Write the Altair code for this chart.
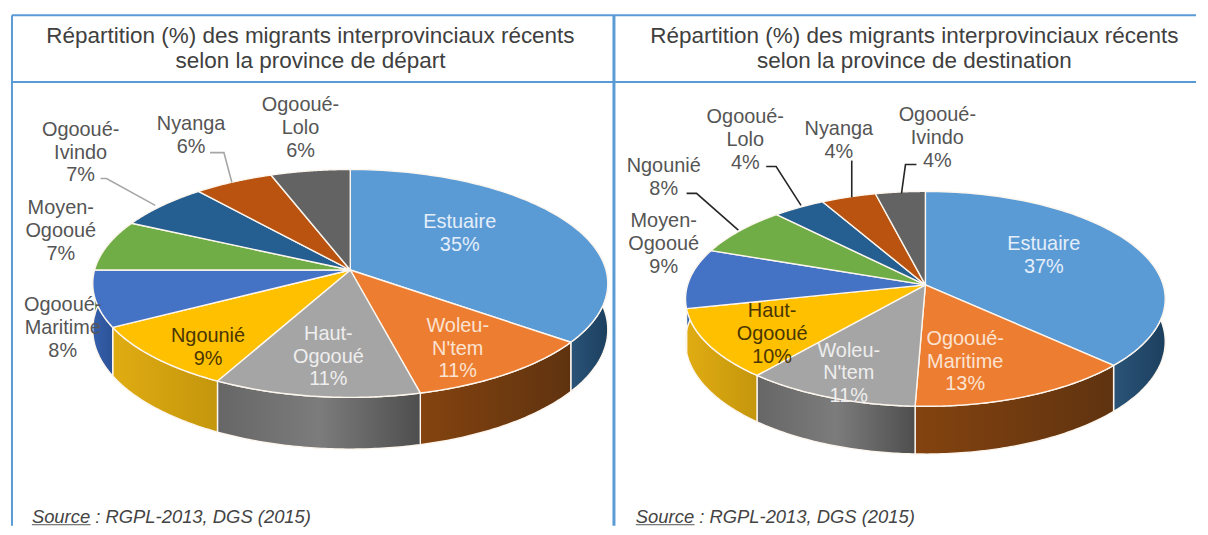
import numpy as np
import pandas as pd
import altair as alt

TOP_COLORS = ["#5b9bd5", "#ed7d31", "#a5a5a5", "#ffc000", "#4472c4", "#70ad47", "#255e91", "#b9530f", "#636363"]
RIM_STOPS = [
    ["#2a5478", "#1c3f5e"],
    ["#84430f", "#5f3310"],
    ["#666666", "#7c7c7c", "#4e4e4e"],
    ["#e0ac12", "#c4960c"],
    ["#3560ad", "#2c5296"],
    ["#5b8c3a", "#4f7a32"],
    ["#1e4c75", "#1e4c75"],
    ["#8a3f0c", "#8a3f0c"],
    ["#4c4c4c", "#4c4c4c"],
]

# panel 1
dep_names = ["Estuaire", "Woleu-N'tem", "Haut-Ogooué", "Ngounié", "Ogooué-Maritime", "Moyen-Ogooué", "Ogooué-Ivindo", "Nyanga", "Ogooué-Lolo"]
dep_values = [35.2, 10.9, 11.6, 9.3, 8.0, 7.2, 6.6, 5.6, 5.6]
dep_geom = dict(cx=350, cy=270, rx=257, back=101, front=128, rim=52)
# panel 2
des_names = ["Estuaire", "Ogooué-Maritime", "Woleu-N'tem", "Haut-Ogooué", "Moyen-Ogooué", "Ngounié", "Ogooué-Lolo", "Nyanga", "Ogooué-Ivindo"]
des_values = [37.2, 13.4, 10.4, 10.5, 9.0, 7.5, 4.0, 4.2, 3.8]
des_geom = dict(cx=928, cy=285, rx=239, back=94, front=122, rim=48)

title_rows = [
    (310, 35, "Répartition (%) des migrants interprovinciaux récents\nselon la province de départ"),
    (917, 35, "Répartition (%) des migrants interprovinciaux récents\nselon la province de destination"),
]
label_rows = [
    (460, 222, "Estuaire\n35%", "#e4eefa"),
    (458, 326, "Woleu-\nN'tem\n11%", "#fbe3d2"),
    (328, 334, "Haut-\nOgooué\n11%", "#eeeeee"),
    (207, 336, "Ngounié\n9%", "#4a3600"),
    (61, 305, "Ogooué-\nMaritime\n8%", "#555555"),
    (59, 208, "Moyen-\nOgooué\n7%", "#555555"),
    (79, 129, "Ogooué-\nIvindo\n7%", "#555555"),
    (190, 123, "Nyanga\n6%", "#555555"),
    (300, 104, "Ogooué-\nLolo\n6%", "#555555"),
    (1047, 244, "Estuaire\n37%", "#e4eefa"),
    (968, 339, "Ogooué-\nMaritime\n13%", "#fbe3d2"),
    (851, 351, "Woleu-\nN'tem\n11%", "#eeeeee"),
    (774, 311, "Haut-\nOgooué\n10%", "#4a3600"),
    (665, 221, "Moyen-\nOgooué\n9%", "#555555"),
    (665, 166, "Ngounié\n8%", "#555555"),
    (747, 116, "Ogooué-\nLolo\n4%", "#555555"),
    (841, 128, "Nyanga\n4%", "#555555"),
    (940, 114, "Ogooué-\nIvindo\n4%", "#555555"),
]
leaders = [
    ([99, 105, 154], [178, 178, 205], "#a6a6a6"),
    ([209, 223, 231], [152, 152, 182], "#a6a6a6"),
    ([688, 698, 740], [193, 193, 230], "#262626"),
    ([768, 778, 803], [166, 166, 205], "#262626"),
    ([854, 854], [160, 197], "#262626"),
    ([919, 908, 904], [164, 164, 193], "#262626"),
]
source_rows = [(30, 518), (637, 518)]
FRAME = "#5b9bd5"
frame_lines = [
    (10, 1200, 14, 14, 2), (10, 1200, 81, 81, 2),
    (10, 10, 14, 527, 2), (615, 615, 14, 527, 3),
]

XS = alt.Scale(domain=[8, 1200], nice=False, zero=False)
YS = alt.Scale(domain=[527, 8], nice=False, zero=False)
X = lambda f="x": alt.X(f"{f}:Q", scale=XS, axis=None)
Y = lambda f="y": alt.Y(f"{f}:Q", scale=YS, axis=None)


def project(theta, g):
    k = (g["front"] - g["back"]) / (g["front"] + g["back"])
    a = g["back"] * (1 + k)
    u, v = np.sin(theta), np.cos(theta)
    d = 1 + k * v
    return g["cx"] + g["rx"] * u / d, g["cy"] - a * v / d, v


def poly_layer(xs, ys, fill, stroke_w=1.4):
    df = pd.DataFrame({"x": xs, "y": ys, "i": np.arange(len(xs))})
    return alt.Chart(df).mark_line(
        fill=fill, stroke="#fdf6ee", strokeWidth=stroke_w, strokeJoin="round"
    ).encode(x=X(), y=Y(), order="i:Q")


def gradient(stops):
    n = len(stops) - 1
    return alt.LinearGradient(
        gradient="linear", x1=0, x2=1, y1=0, y2=0,
        stops=[alt.GradientStop(offset=j / n, color=c) for j, c in enumerate(stops)],
    )


def pie_layers(values, g):
    vals = np.array(values, dtype=float)
    edges = np.concatenate([[0], np.cumsum(vals) / vals.sum() * 2 * np.pi])
    rims, tops = [], []
    lo_lim, hi_lim = np.radians(70), np.radians(290)
    for j in range(len(vals)):
        a, b = edges[j], edges[j + 1]
        ra, rb = max(a, lo_lim), min(b, hi_lim)
        if rb > ra:
            th = np.linspace(ra, rb, 60)
            x, y, v = project(th, g)
            t = g["rim"] - (g["rim"] * 0.12) * (1 + v)
            xs = np.concatenate([x, x[::-1], x[:1]])
            ys = np.concatenate([y, (y + t)[::-1], y[:1]])
            rims.append(poly_layer(xs, ys, gradient(RIM_STOPS[j])))
        th = np.linspace(a, b, 80)
        x, y, _ = project(th, g)
        xs = np.concatenate([[g["cx"]], x, [g["cx"]]])
        ys = np.concatenate([[g["cy"]], y, [g["cy"]]])
        tops.append(poly_layer(xs, ys, TOP_COLORS[j]))
    return rims + tops


layers = []
for x1, x2, y1, y2, w in frame_lines:
    df = pd.DataFrame({"x": [x1, x2], "y": [y1, y2], "i": [0, 1]})
    layers.append(alt.Chart(df).mark_line(color=FRAME, strokeWidth=w).encode(x=X(), y=Y(), order="i:Q"))

layers += pie_layers(dep_values, dep_geom)
layers += pie_layers(des_values, des_geom)

for xs, ys, col in leaders:
    df = pd.DataFrame({"x": xs, "y": ys, "i": range(len(xs))})
    layers.append(alt.Chart(df).mark_line(color=col, strokeWidth=1.6).encode(x=X(), y=Y(), order="i:Q"))

FONT = "Liberation Sans"
tdf = pd.DataFrame(title_rows, columns=["x", "y", "t"])
layers.append(alt.Chart(tdf).mark_text(font=FONT, fontSize=22.6, lineBreak="\n", lineHeight=25, color="#404040", align="center", baseline="middle").encode(x=X(), y=Y(), text="t:N"))

ldf = pd.DataFrame(label_rows, columns=["x", "y", "t", "c"])
layers.append(alt.Chart(ldf).mark_text(font=FONT, fontSize=20, lineBreak="\n", lineHeight=23, align="center", baseline="middle").encode(x=X(), y=Y(), text="t:N", color=alt.Color("c:N", scale=None)))

sdf = pd.DataFrame(source_rows, columns=["x", "y"])
sdf["t"] = "Source : RGPL-2013, DGS (2015)"
sdf["x2"] = sdf["x"] + 59
sdf["y2"] = sdf["y"] + 8
layers.append(alt.Chart(sdf).mark_text(font=FONT, fontSize=18.5, fontStyle="italic", color="#444444", align="left", baseline="middle").encode(x=X(), y=Y(), text="t:N"))
layers.append(alt.Chart(sdf).mark_rule(color="#555555", strokeWidth=1).encode(x=X(), x2="x2:Q", y=Y("y2")))

chart = alt.layer(*layers).properties(width=1192, height=519, padding=0, background="white").configure_view(stroke=None)
chart.save("out.html", embed_options={"renderer": "svg", "actions": False})
